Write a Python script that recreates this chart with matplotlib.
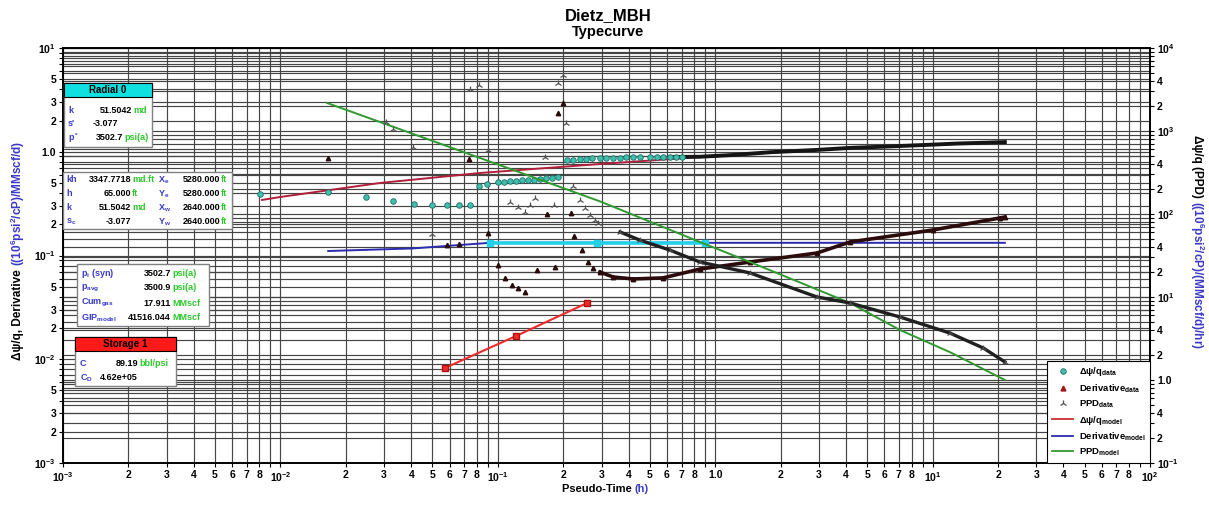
import numpy as np
import matplotlib
matplotlib.use('Agg')
import matplotlib.pyplot as plt
from matplotlib.patches import Rectangle
from matplotlib.lines import Line2D
from matplotlib.ticker import FixedLocator, FixedFormatter, NullLocator
from matplotlib.transforms import blended_transform_factory

plt.rcParams['font.family'] = ['Liberation Sans', 'DejaVu Sans']
plt.rcParams['font.weight'] = 'bold'
plt.rcParams['mathtext.fontset'] = 'custom'
plt.rcParams['mathtext.rm'] = 'Liberation Sans:bold'
plt.rcParams['mathtext.it'] = 'Liberation Sans:bold:italic'
plt.rcParams['mathtext.bf'] = 'Liberation Sans:bold'
plt.rcParams['mathtext.default'] = 'rm'

# ---- data (time in h) ----
# delta psi / q data (left axis)
t_dpq = [0.00805, 0.01656, 0.0248, 0.0330, 0.0411, 0.0498, 0.0583, 0.0663, 0.0745,
         0.0819, 0.0891, 0.1002, 0.1068, 0.1138, 0.1213, 0.1291, 0.1377, 0.1467,
         0.1563, 0.1667, 0.1774, 0.1892,
         0.208, 0.222, 0.239, 0.255, 0.272, 0.295, 0.315, 0.34, 0.365, 0.39, 0.42,
         0.45, 0.50, 0.54, 0.575, 0.62, 0.66, 0.70, 0.851, 1.2, 1.8, 2.9, 4.2, 6.0,
         9.0, 13.0, 17.0, 21.5]
dpq = [0.392, 0.409, 0.366, 0.335, 0.314, 0.307, 0.307, 0.307, 0.307,
       0.468, 0.489, 0.511, 0.515, 0.52, 0.525, 0.53, 0.535, 0.54,
       0.548, 0.555, 0.562, 0.57,
       0.833, 0.84, 0.852, 0.86, 0.866, 0.871, 0.874, 0.877, 0.88, 0.882, 0.884,
       0.885, 0.887, 0.888, 0.89, 0.891, 0.892, 0.892, 0.895, 0.93, 0.99, 1.04,
       1.09, 1.12, 1.16, 1.2, 1.22, 1.24]

# derivative data (left axis)
t_der = [0.01656, 0.0583, 0.0663, 0.0737, 0.090, 0.1002, 0.1079, 0.1161, 0.1239,
         0.1334, 0.1513, 0.1683, 0.1833, 0.1892, 0.1995, 0.2173, 0.224, 0.2439,
         0.2597, 0.2738, 0.295, 0.339, 0.419, 0.575, 0.851, 1.445, 2.94, 4.17,
         10.0, 20.4, 21.5]
der = [0.871, 0.126, 0.129, 0.85, 0.165, 0.081, 0.0608, 0.052, 0.0487,
       0.0445, 0.0724, 0.251, 0.0774, 2.36, 2.95, 0.257, 0.154, 0.113,
       0.0865, 0.0758, 0.0692, 0.0621, 0.0594, 0.0608, 0.074, 0.0865, 0.1057,
       0.135, 0.176, 0.230, 0.235]

# PPD data (right axis)
t_ppd = [0.0306, 0.0330, 0.0407, 0.0498, 0.0745, 0.0819, 0.090, 0.1138, 0.1239,
         0.1334, 0.1406, 0.1482, 0.1648, 0.1813, 0.1892, 0.1995, 0.2058, 0.2217,
         0.2388, 0.2518, 0.2654, 0.2796, 0.2888, 0.365, 0.449, 0.617, 0.851,
         1.445, 2.94, 4.17, 7.08, 12.0, 17.1, 21.5]
ppd = [1283, 1057, 641, 57.4, 3206, 3580, 590, 139.6, 121,
       105.7, 128, 156, 486, 128, 3790, 4730, 1248, 217,
       147.5, 118, 97.2, 84.7, 78, 60.7, 48.6, 36.8, 26.4,
       19.5, 10.0, 8.47, 5.74, 3.68, 2.43, 1.65]

# models
t_dpq_model = [0.00823, 0.00995, 0.0287, 0.0828, 0.295, 0.851, 1.445, 4.17, 10.0, 21.5]
dpq_model = [0.343, 0.366, 0.500, 0.624, 0.762, 0.889, 0.951, 1.09, 1.17, 1.24]
t_der_model = [0.0166, 0.0407, 0.092, 21.5]
der_model = [0.1105, 0.117, 0.1325, 0.1325]
t_ppd_model = [0.0164, 0.0828, 0.295, 0.851, 1.445, 4.17, 7.08, 12.0, 21.5]
ppd_model = [2175, 473, 142, 46, 26.4, 8.47, 4.0, 2.17, 1.0]

# analysis lines
t_radial = [0.092, 0.2857, 0.897]
radial = [0.1325, 0.1325, 0.1325]
t_storage = [0.0571, 0.1213, 0.257]
storage = [0.00824, 0.01675, 0.0348]

W, H = 1209, 508
fig = plt.figure(figsize=(W / 100, H / 100), dpi=100)


def fx(x):
    return x / W


def fy(y):
    return 1 - y / H


ax = fig.add_axes([fx(63), fy(463), fx(1150) - fx(63), fy(48) - fy(463)])
ax2 = ax.twinx()
ax.set_xscale('log')
ax.set_yscale('log')
ax2.set_yscale('log')
ax.set_xlim(1e-3, 1e2)
ax.set_ylim(1e-3, 10)
ax2.set_ylim(0.1, 1e4)

gridc = '#454545'


def dec_label(e):
    return '1.0' if e == 0 else r'$10^{%d}$' % e


def log_ticks(e0, e1, show):
    ticks, labels = [], []
    for e in range(e0, e1):
        for k in range(1, 10):
            ticks.append(k * 10.0 ** e)
            if k == 1:
                labels.append(dec_label(e))
            elif k in show:
                labels.append(str(k))
            else:
                labels.append('')
    ticks.append(10.0 ** e1)
    labels.append(dec_label(e1))
    return ticks, labels


xt, xl = log_ticks(-3, 2, (2, 3, 4, 5, 6, 7, 8))
yt, yl = log_ticks(-3, 1, (2, 3, 5))
rt, rl = log_ticks(-1, 4, (2, 4))

ax.xaxis.set_major_locator(FixedLocator(xt))
ax.xaxis.set_major_formatter(FixedFormatter(xl))
ax.xaxis.set_minor_locator(NullLocator())
ax.yaxis.set_major_locator(FixedLocator(yt))
ax.yaxis.set_major_formatter(FixedFormatter(yl))
ax.yaxis.set_minor_locator(NullLocator())
ax2.yaxis.set_major_locator(FixedLocator(rt))
ax2.yaxis.set_major_formatter(FixedFormatter(rl))
ax2.yaxis.set_minor_locator(NullLocator())

ax.grid(True, which='major', color=gridc, lw=0.85)
trans = blended_transform_factory(ax.transAxes, ax2.transData)
for v in rt:
    ax.plot([0, 1], [v, v], transform=trans, color=gridc, lw=0.85, zorder=1.4)

ax.tick_params(direction='out', length=3, width=0.8, labelsize=7.5, pad=2)
ax.tick_params(axis='y', right=False)
ax2.tick_params(direction='out', length=3, width=0.8, labelsize=7.5, pad=2)
for a in (ax, ax2):
    for s in a.spines.values():
        s.set_linewidth(1.2)
        s.set_color('black')

teal = '#3fbfae'
t_dpq_a = np.array(t_dpq)
dpq_a = np.array(dpq)
t_der_a = np.array(t_der)
der_a = np.array(der)
t_ppd_a = np.array(t_ppd)
ppd_a = np.array(ppd)

# models
ax.plot(t_dpq_model, dpq_model, color='#b0203a', lw=1.4, zorder=3)
ax.plot(t_der_model, der_model, color='#2b2bb0', lw=1.4, zorder=3)

# data
m = t_dpq_a >= 0.6
ax.plot(t_dpq_a[m], dpq_a[m], color='#151515', lw=2.8, zorder=4)
m = t_dpq_a < 0.75
ax.plot(t_dpq_a[m], dpq_a[m], 'o', ms=4, mfc=teal, mec='#1d6f66', mew=0.6, ls='none', zorder=5)
m = t_der_a >= 0.29
ax.plot(t_der_a[m], der_a[m], color='#2b0b0b', lw=2.6, zorder=4)
ax.plot(t_der_a, der_a, '^', ms=3.2, color='#2a0a0a', ls='none', zorder=5)

ax.plot(t_radial, radial, color='#22d0ea', lw=2.6, marker='s', ms=4.5, zorder=6)
ax.plot(t_storage, storage, color='#ee2a2a', lw=1.5, marker='s', ms=5, mec='#b01010', zorder=6)

ax2.plot(t_ppd_model, ppd_model, color='#2f9a2f', lw=1.4, zorder=3)
m = t_ppd_a >= 0.36
ax2.plot(t_ppd_a[m], ppd_a[m], color='#202020', lw=2.4, zorder=4)
ax2.plot(t_ppd_a, ppd_a, marker='2', ms=5, color='#505050', mew=0.9, ls='none', zorder=5)

ax.set_xlim(1e-3, 1e2)
ax.set_ylim(1e-3, 10)
ax2.set_ylim(0.1, 1e4)

# legend
handles = [
    Line2D([], [], ls='none', marker='o', ms=4, mfc=teal, mec='#1d6f66', mew=0.6),
    Line2D([], [], ls='none', marker='^', ms=3.5, color='#a01818'),
    Line2D([], [], ls='none', marker='2', ms=5, color='#505050', mew=0.9),
    Line2D([], [], color='#cc3030', lw=1.3),
    Line2D([], [], color='#2b2bb0', lw=1.3),
    Line2D([], [], color='#2f9a2f', lw=1.3),
]
labels = [r'Δψ/q$_{\mathrm{data}}$', r'Derivative$_{\mathrm{data}}$', r'PPD$_{\mathrm{data}}$',
          r'Δψ/q$_{\mathrm{model}}$', r'Derivative$_{\mathrm{model}}$', r'PPD$_{\mathrm{model}}$']
leg = ax2.legend(handles, labels, loc='lower right', bbox_to_anchor=(1, 0), borderaxespad=0,
                 fancybox=False, framealpha=1, edgecolor='black', fontsize=6.8,
                 handlelength=2.2, labelspacing=0.4, borderpad=0.5, handletextpad=0.6)
leg.get_frame().set_linewidth(0.8)

# ---- info boxes ----
blue = '#3a3ac8'
green = '#2ec82e'
fs = 6.5


def box(x0, y0, x1, y1, head=None, hcol=None):
    fig.add_artist(Rectangle((fx(x0), fy(y1)), fx(x1) - fx(x0), fy(y0) - fy(y1),
                             transform=fig.transFigure, fc='white', ec='#808080', lw=1.0, zorder=1))
    if head:
        fig.add_artist(Rectangle((fx(x0), fy(y0 + 14)), fx(x1) - fx(x0), fy(y0) - fy(y0 + 14),
                                 transform=fig.transFigure, fc=hcol, ec='black', lw=0.8, zorder=1.5))
        fig.text(fx((x0 + x1) / 2), fy(y0 + 7), head, ha='center', va='center', fontsize=7, zorder=3)


def row(y, xn, name, xv, val, unit):
    fig.text(fx(xn), fy(y), name, color=blue, ha='left', va='center', fontsize=fs, zorder=3)
    fig.text(fx(xv), fy(y), val, color='black', ha='right', va='center', fontsize=fs, zorder=3)
    if unit:
        fig.text(fx(xv + 1), fy(y), unit, color=green, ha='left', va='center', fontsize=fs, zorder=3)


box(64, 83, 152, 147, 'Radial 0', '#10e0e0')
row(110, 68, 'k', 132, '51.5042', 'md')
row(124, 68, "s'", 118, '-3.077', '')
row(138, 68, r'p$^*$', 123, '3502.7', 'psi(a)')

box(63, 172, 232, 229)
names1 = ['kh', 'h', 'k', r's$_c$']
vals1 = ['3347.7718', '65.000', '51.5042', '-3.077']
units1 = ['md.ft', 'ft', 'md', '']
names2 = [r'X$_e$', r'Y$_e$', r'X$_w$', r'Y$_w$']
vals2 = ['5280.000', '5280.000', '2640.000', '2640.000']
for i, y in enumerate([180, 194, 208, 222]):
    row(y, 66, names1[i], 131, vals1[i], units1[i])
    row(y, 158, names2[i], 220, vals2[i], 'ft')

box(77, 264, 209, 326)
names3 = [r'p$_i$ (syn)', r'p$_{avg}$', r'Cum$_{gas}$', r'GIP$_{model}$']
vals3 = ['3502.7', '3500.9', '17.911', '41516.044']
units3 = ['psi(a)', 'psi(a)', 'MMscf', 'MMscf']
for i, y in enumerate([273, 288, 303, 318]):
    row(y, 81, names3[i], 171, vals3[i], units3[i])

box(75, 337, 176, 386, 'Storage 1', '#ff1a1a')
row(363, 80, 'C', 138, '89.19', 'bbl/psi')
row(378, 80, r'C$_D$', 138, '4.62e+05', '')

# ---- titles and axis labels ----
fig.text(fx(608), fy(16), 'Dietz_MBH', ha='center', va='center', fontsize=12)
fig.text(fx(608), fy(32), 'Typecurve', ha='center', va='center', fontsize=10.5)

t1 = fig.text(fx(562), fy(489), 'Pseudo-Time ', ha='left', va='center', fontsize=8)
ax.annotate('(h)', xy=(1, 0.5), xycoords=t1, ha='left', va='center', fontsize=8, color=blue,
            annotation_clip=False)

l1 = fig.text(fx(18), fy(360), 'Δψ/q, Derivative ', rotation=90, ha='center', va='bottom', fontsize=8.5)
ax.annotate(r'((10$^6$psi$^2$/cP)/MMscf/d)', xy=(0.5, 1), xycoords=l1, rotation=90,
            ha='center', va='bottom', fontsize=8.5, color=blue, annotation_clip=False)

r1 = fig.text(fx(1197), fy(135), 'Δψ/q (PPD) ', rotation=-90, ha='center', va='top', fontsize=8.5)
ax.annotate(r'((10$^6$psi$^2$/cP)/(MMscf/d)/hr)', xy=(0.5, 0), xycoords=r1, rotation=-90,
            ha='center', va='top', fontsize=8.5, color=blue, annotation_clip=False)

fig.savefig('out.png', dpi=100)
